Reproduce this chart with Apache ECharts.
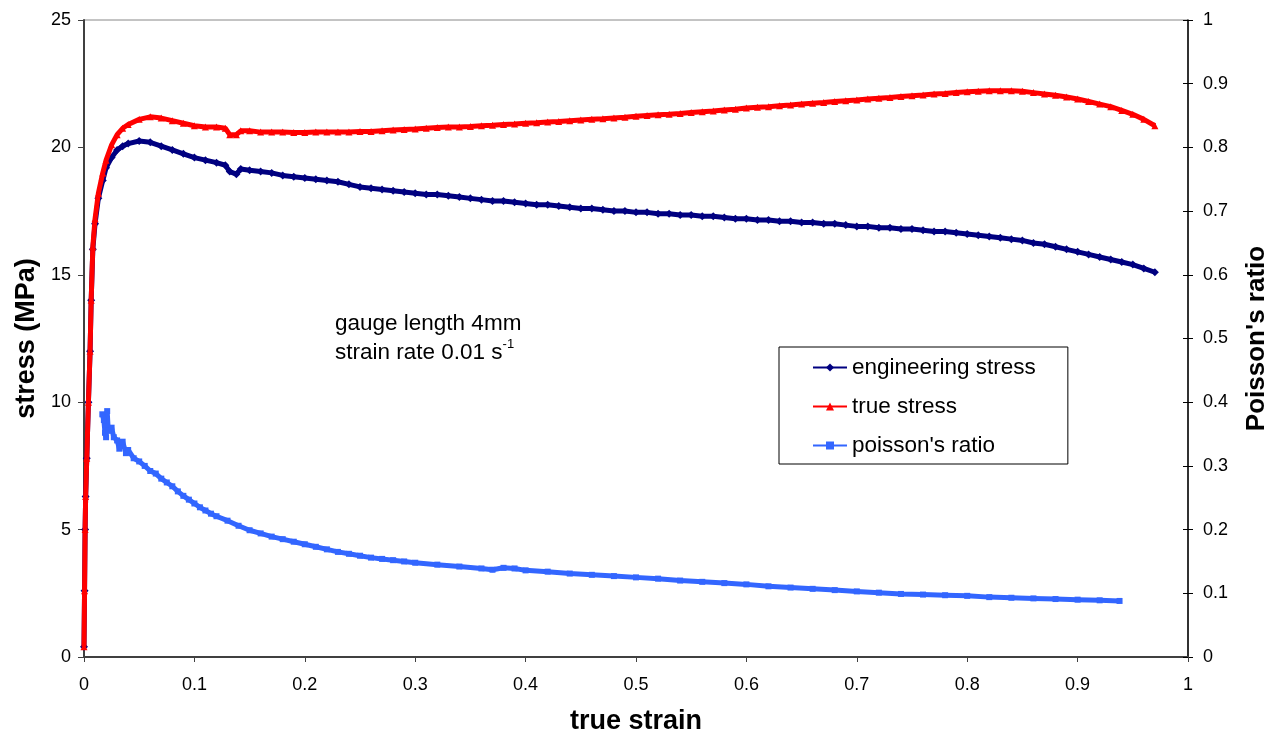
<!DOCTYPE html>
<html>
<head>
<meta charset="utf-8">
<script src="https://cdn.jsdelivr.net/npm/echarts@6/dist/echarts.min.js"></script>
<style>html,body{margin:0;padding:0;background:#fff}#c{width:1284px;height:740px}</style>
</head>
<body>
<div id="c"></div>
<script>
const xTicks = [0,0.1,0.2,0.3,0.4,0.5,0.6,0.7,0.8,0.9,1];
const stressTicks = [0,5,10,15,20,25];
const poissonTicks = [0,0.1,0.2,0.3,0.4,0.5,0.6,0.7,0.8,0.9,1];

const strain = [0,0.0005,0.001,0.0015,0.0025,0.004,0.0055,0.0065,0.008,0.01,0.013,0.017,0.02,0.025,0.03,0.035,0.04,0.05,0.06,0.07,0.08,0.09,
0.10,0.11,0.12,0.128,0.132,0.138,0.142,0.15,0.16,0.17,0.18,0.19,0.20,0.21,0.22,0.23,0.24,0.25,0.26,0.27,0.28,0.29,0.30,
0.31,0.32,0.33,0.34,0.35,0.36,0.37,0.38,0.39,0.40,0.41,0.42,0.43,0.44,0.45,0.46,0.47,0.48,0.49,0.50,
0.51,0.52,0.53,0.54,0.55,0.56,0.57,0.58,0.59,0.60,0.61,0.62,0.63,0.64,0.65,0.66,0.67,0.68,0.69,0.70,
0.71,0.72,0.73,0.74,0.75,0.76,0.77,0.78,0.79,0.80,0.81,0.82,0.83,0.84,0.85,0.86,0.87,0.88,0.89,0.90,
0.91,0.92,0.93,0.94,0.95,0.96,0.97];

const engStress = [0.4,2.6,5.0,6.3,7.8,10.0,12.0,14.0,16.0,17.0,18.0,18.7,19.2,19.6,19.9,20.05,20.15,20.25,20.2,20.05,19.9,19.75,
19.6,19.5,19.4,19.3,19.05,18.95,19.15,19.1,19.05,19.0,18.9,18.85,18.8,18.75,18.7,18.65,18.55,18.45,18.4,18.35,18.3,18.25,18.2,
18.15,18.15,18.1,18.05,18.0,17.95,17.9,17.9,17.85,17.8,17.75,17.75,17.7,17.65,17.6,17.6,17.55,17.5,17.5,17.45,
17.45,17.4,17.4,17.35,17.35,17.3,17.3,17.25,17.2,17.2,17.15,17.15,17.1,17.1,17.05,17.05,17.0,17.0,16.95,16.9,
16.9,16.85,16.85,16.8,16.8,16.75,16.7,16.7,16.65,16.6,16.55,16.5,16.45,16.4,16.35,16.25,16.2,16.1,16.0,15.9,
15.8,15.7,15.6,15.5,15.4,15.25,15.1];

const trueStress = [0.4,2.6,5.0,6.3,7.8,10.0,12.0,14.0,16.1,17.2,18.2,19.0,19.5,20.1,20.5,20.75,20.9,21.1,21.2,21.15,21.05,20.95,
20.85,20.8,20.8,20.75,20.5,20.5,20.65,20.65,20.6,20.6,20.6,20.58,20.58,20.6,20.6,20.6,20.6,20.62,20.62,20.65,20.68,20.7,20.72,
20.75,20.78,20.8,20.8,20.82,20.85,20.87,20.9,20.92,20.95,20.97,21.0,21.02,21.05,21.08,21.1,21.12,21.15,21.18,21.22,
21.25,21.28,21.3,21.33,21.37,21.4,21.43,21.47,21.5,21.55,21.58,21.6,21.63,21.66,21.7,21.73,21.76,21.8,21.83,21.86,
21.9,21.93,21.96,22.0,22.03,22.06,22.1,22.12,22.15,22.18,22.2,22.22,22.22,22.22,22.2,22.15,22.1,22.05,21.98,21.9,
21.8,21.7,21.6,21.45,21.3,21.1,20.85];

const prStrain = [0.0166,0.018,0.019,0.020,0.021,0.022,0.025,0.027,0.030,0.032,0.035,0.038,0.040,0.045,0.050,0.055,0.060,0.065,0.070,0.075,
0.080,0.085,0.090,0.095,0.100,0.105,0.110,0.115,0.120,0.13,0.14,0.15,0.16,0.17,0.18,0.19,0.20,0.21,0.22,0.23,0.24,0.25,0.26,0.27,0.28,0.29,0.30,
0.32,0.34,0.36,0.37,0.38,0.39,0.40,0.42,0.44,0.46,0.48,0.50,0.52,0.54,0.56,0.58,0.60,0.62,0.64,0.66,0.68,0.70,0.72,0.74,0.76,0.78,0.80,
0.82,0.84,0.86,0.88,0.90,0.92,0.938];

const poisson = [0.381,0.372,0.352,0.345,0.386,0.355,0.360,0.345,0.340,0.327,0.338,0.320,0.325,0.312,0.307,0.300,0.292,0.288,0.280,0.274,
0.268,0.260,0.253,0.247,0.241,0.235,0.230,0.225,0.221,0.214,0.206,0.199,0.194,0.189,0.185,0.181,0.177,0.173,0.169,0.165,0.162,0.159,0.156,0.154,0.152,0.150,0.148,
0.145,0.142,0.139,0.137,0.140,0.139,0.136,0.134,0.131,0.129,0.127,0.125,0.123,0.120,0.118,0.116,0.114,0.111,0.109,0.107,0.105,0.103,0.101,0.099,0.098,0.097,0.096,
0.094,0.093,0.092,0.091,0.090,0.089,0.088];

const seriesNames = ['engineering stress','true stress',"poisson's ratio"];

const pairs = (xs, ys) => xs.map((x, i) => [x, ys[i]]);
const fmt = v => String(+Number(v).toFixed(1));
const FONT = 'Liberation Sans';

const chart = echarts.init(document.getElementById('c'), null, {renderer: 'canvas'});
chart.setOption({
  animation: false,
  backgroundColor: '#fff',
  textStyle: {fontFamily: FONT},
  grid: {left: 84, right: 96, top: 20, bottom: 82, show: true, borderColor: '#888', borderWidth: 1, backgroundColor: 'transparent'},
  legend: {
    orient: 'vertical', left: 779, top: 347,
    data: seriesNames,
    itemWidth: 34, itemHeight: 10, itemGap: 14,
    padding: [8, 32, 6, 33],
    borderColor: '#000', borderWidth: 1, backgroundColor: '#fff',
    textStyle: {fontSize: 22.5, fontFamily: FONT, color: '#000', lineHeight: 25}
  },
  graphic: [{
    type: 'text', left: 335, top: 309, z: 10,
    style: {
      text: 'gauge length 4mm\nstrain rate 0.01 s{sup|-1}',
      font: '22.5px "Liberation Sans"', fill: '#000', lineHeight: 29,
      rich: {sup: {fontSize: 13, fontFamily: FONT, verticalAlign: 'top', padding: [0,0,10,0], fill: '#000'}}
    }
  }],
  xAxis: {
    type: 'value', min: xTicks[0], max: xTicks[xTicks.length-1], interval: 0.1,
    name: 'true strain', nameLocation: 'middle', nameGap: 51,
    nameTextStyle: {fontSize: 27, fontWeight: 'bold', color: '#000', fontFamily: FONT},
    axisLine: {lineStyle: {color: '#404040', width: 2}},
    axisTick: {show: true, length: 5, lineStyle: {color: '#404040'}},
    axisLabel: {fontSize: 18, color: '#000', margin: 19, formatter: fmt},
    splitLine: {show: false}
  },
  yAxis: [{
    type: 'value', min: stressTicks[0], max: stressTicks[stressTicks.length-1], interval: 5, position: 'left',
    name: 'stress (MPa)', nameLocation: 'middle', nameGap: 40,
    nameTextStyle: {fontSize: 27, fontWeight: 'bold', color: '#000', fontFamily: FONT},
    axisLine: {show: true, lineStyle: {color: '#404040', width: 2}},
    axisTick: {show: true, length: 6, lineStyle: {color: '#404040'}},
    axisLabel: {fontSize: 18, color: '#000', margin: 13},
    splitLine: {show: false}
  }, {
    type: 'value', min: poissonTicks[0], max: poissonTicks[poissonTicks.length-1], interval: 0.1, position: 'right',
    name: "Poisson's ratio", nameLocation: 'middle', nameGap: 56,
    nameTextStyle: {fontSize: 26, fontWeight: 'bold', color: '#000', fontFamily: FONT},
    axisLine: {show: true, lineStyle: {color: '#000', width: 1.5}},
    axisTick: {show: true, length: 5, lineStyle: {color: '#000'}},
    axisLabel: {fontSize: 18, color: '#000', margin: 15, formatter: fmt},
    splitLine: {show: false}
  }, {
    type: 'value', min: 0, max: 1, interval: 0.1, position: 'right',
    axisLine: {show: false},
    axisTick: {show: true, inside: true, length: 5, lineStyle: {color: '#000'}},
    axisLabel: {show: false},
    splitLine: {show: false}
  }],
  series: [{
    name: seriesNames[0], type: 'line', yAxisIndex: 0,
    data: pairs(strain, engStress),
    symbol: 'diamond', symbolSize: 8, showSymbol: true, showAllSymbol: true,
    itemStyle: {color: '#000080'}, lineStyle: {color: '#000080', width: 5}, z: 3
  }, {
    name: seriesNames[1], type: 'line', yAxisIndex: 0,
    data: pairs(strain, trueStress),
    symbol: 'triangle', symbolSize: 7, showSymbol: true, showAllSymbol: true,
    itemStyle: {color: '#FF0000'}, lineStyle: {color: '#FF0000', width: 5}, z: 4
  }, {
    name: seriesNames[2], type: 'line', yAxisIndex: 1,
    data: pairs(prStrain, poisson),
    symbol: 'rect', symbolSize: 6, showSymbol: true, showAllSymbol: true,
    itemStyle: {color: '#3366FF'}, lineStyle: {color: '#3366FF', width: 5}, z: 2
  }]
});
</script>
</body>
</html>
